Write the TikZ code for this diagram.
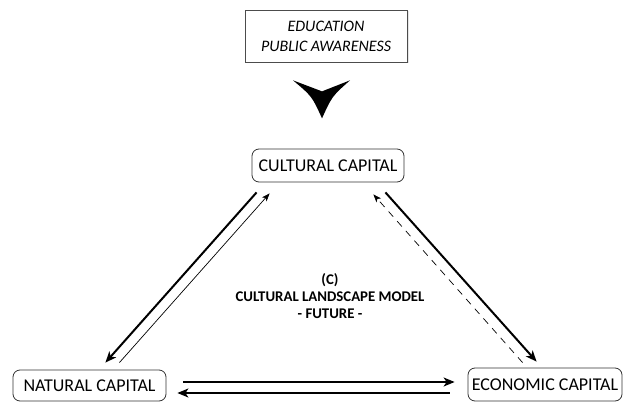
\documentclass[tikz,border=0pt]{standalone}
\usepackage{fontspec}
\setmainfont{Carlito}
\usetikzlibrary{arrows.meta}
\usetikzlibrary{shadows}
\usetikzlibrary{calc}

\begin{document}
\begin{tikzpicture}[x=1pt, y=-1pt,
	capital/.style = {draw=black!80, line width=0.8pt, rounded corners=7pt, fill=white,
		minimum width=152pt, minimum height=33pt, inner sep=0pt, font=\fontsize{18}{20}\selectfont},
	strong/.style = {line width=2pt, -{Stealth[length=11pt, width=9pt, inset=3pt]}},
	weak/.style = {line width=0.7pt, -{Stealth[length=8pt, width=6pt, inset=2pt]}}]
	\useasboundingbox (0,0) rectangle (623,403);
	\node[draw=black!70, line width=0.7pt, fill=white, minimum width=162pt, minimum height=52pt,
		drop shadow={opacity=0.2, shadow xshift=1.5pt, shadow yshift=-1.5pt},
		align=center, font=\fontsize{16}{20}\selectfont\itshape] (edu) at (326,36) {EDUCATION\\PUBLIC AWARENESS};
	\node[capital] (cc) at (328,165.5) {CULTURAL CAPITAL};
	\node[capital, minimum width=153pt, minimum height=31pt] (nc) at (89.5,385.5) {NATURAL CAPITAL};
	\node[capital, minimum width=154pt] (ec) at (545,384.5) {ECONOMIC CAPITAL};
	\node[align=center, font=\fontsize{14.8}{17}\selectfont\bfseries] (model) at (330,296)
		{(C)\\CULTURAL LANDSCAPE MODEL\\- FUTURE -};
	\fill ($(edu.south)+(-33,18)$) .. controls ($(edu.south)+(-18,24)$) .. ($(edu.south)+(-4,29)$)
		.. controls ($(edu.south)+(10,24)$) .. ($(edu.south)+(24,18)$)
		.. controls ($(edu.south)+(6,34)$) .. ($(edu.south)+(-4,56)$)
		.. controls ($(edu.south)+(-14,34)$) .. cycle;
	\draw[strong] ([shift={(5,10)}]cc.south west) -- ([shift={(-61,-7)}]nc.north east);
	\draw[weak] ([shift={(-47,-7)}]nc.north east) -- ([shift={(18,11)}]cc.south west);
	\draw[strong] ([shift={(-19,10)}]cc.south east) -- ([shift={(69,-6)}]ec.north west);
	\draw[weak, dashed, dash pattern=on 7pt off 6pt] ([shift={(55,-5)}]ec.north west) -- ([shift={(-31,12)}]cc.south east);
	\draw[strong, line width=1.5pt] ([shift={(17,-3.5)}]nc.east) -- ([shift={(-13,-2.5)}]ec.west);
	\draw[strong, line width=1.5pt] ([shift={(-18,8.5)}]ec.west) -- ([shift={(11,7.5)}]nc.east);
\end{tikzpicture}
\end{document}
